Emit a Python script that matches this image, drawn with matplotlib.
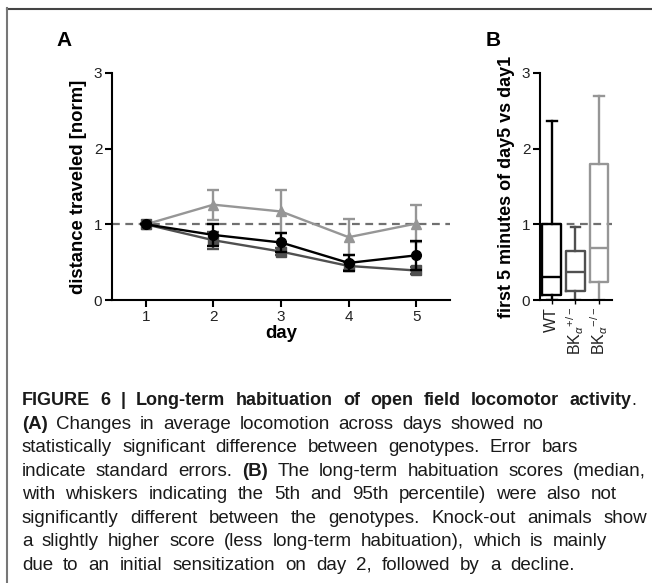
import matplotlib
matplotlib.use("Agg")
import matplotlib.pyplot as plt
from matplotlib import font_manager
from matplotlib.lines import Line2D
import numpy as np

# ---------------- data ----------------
days = [1, 2, 3, 4, 5]
wt_mean = [1.0, 0.86, 0.76, 0.49, 0.59]
wt_err = [0.0, 0.14, 0.13, 0.11, 0.19]
het_mean = [1.0, 0.79, 0.64, 0.45, 0.39]
het_err = [0.0, 0.11, 0.05, 0.05, 0.05]
ko_mean = [1.0, 1.26, 1.17, 0.83, 1.01]
ko_err = [0.0, 0.20, 0.28, 0.24, 0.25]

box_labels = ['WT', r'BK$_{\alpha}$$^{+/-}$', r'BK$_{\alpha}$$^{-/-}$']
box_low = [0.0, 0.0, 0.0]
box_q1 = [0.07, 0.12, 0.24]
box_med = [0.30, 0.37, 0.69]
box_q3 = [1.00, 0.65, 1.80]
box_high = [2.36, 0.96, 2.70]

yticks = [0, 1, 2, 3]

caption_lines = [
    [[("FIGURE", "bold")], [("6", "bold")], [("|", "bold")], [("Long-term", "bold")],
     [("habituation", "bold")], [("of", "bold")], [("open", "bold")], [("field", "bold")],
     [("locomotor", "bold")], [("activity", "bold"), (".", "normal")]],
    "(A)* Changes in average locomotion across days showed no",
    "statistically significant difference between genotypes. Error bars",
    "indicate standard errors. (B)* The long-term habituation scores (median,",
    "with whiskers indicating the 5th and 95th percentile) were also not",
    "significantly different between the genotypes. Knock-out animals show",
    "a slightly higher score (less long-term habituation), which is mainly",
    "due to an initial sensitization on day 2, followed by a decline.",
]
caption_right = [636, 544, 578, 646, 617, 647, 607, 575]

# ---------------- fonts ----------------
names = {f.name for f in font_manager.fontManager.ttflist}
def pick(cands):
    for c in cands:
        if c in names:
            return c
    return 'DejaVu Sans'
SANS = pick(['Liberation Sans', 'Arial', 'DejaVu Sans'])
plt.rcParams['font.family'] = [SANS, 'DejaVu Sans']
plt.rcParams['mathtext.fontset'] = 'custom'
plt.rcParams['mathtext.rm'] = SANS
plt.rcParams['mathtext.it'] = SANS + ':italic'
plt.rcParams['mathtext.bf'] = SANS + ':bold'

W, H = 652, 583
fig = plt.figure(figsize=(W / 100, H / 100), dpi=100)

def fx(x):
    return x / W
def fy(y):
    return 1 - y / H

TICKC = '#222222'
C_WT = '#000000'
C_HET = '#505050'
C_KO = '#969696'
LW = 1.7

# ---------------- panel A ----------------
axA = fig.add_axes([fx(112), fy(300), (450 - 112) / W, (300 - 73) / H])
axA.axhline(1.0, color='#707070', lw=1.6, ls=(0, (3.5, 2.5)), zorder=1)
axA.errorbar(days, ko_mean, yerr=ko_err, color=C_KO, marker='^', ms=7.5, lw=LW,
             capsize=4, capthick=LW, elinewidth=LW, zorder=2)
axA.errorbar(days, het_mean, yerr=het_err, color=C_HET, marker='s', ms=6.5, lw=LW,
             capsize=4, capthick=LW, elinewidth=LW, zorder=3)
axA.errorbar(days, wt_mean, yerr=wt_err, color=C_WT, marker='o', ms=7, lw=LW,
             capsize=4, capthick=LW, elinewidth=LW, zorder=4)
axA.set_xlim(0.5, 5.5)
axA.set_ylim(0, 3)
axA.set_yticks(yticks)
axA.set_xticks(days)
for s in ['top', 'right']:
    axA.spines[s].set_visible(False)
for s in ['left', 'bottom']:
    axA.spines[s].set_linewidth(1.5)
axA.tick_params(axis='both', length=5, width=1.5, labelsize=11, labelcolor=TICKC, pad=2)
axA.set_xlabel('day', fontsize=13.3, fontweight='bold', labelpad=1)
axA.set_ylabel('distance traveled [norm]', fontsize=13.3, fontweight='bold', labelpad=5)
fig.text(fx(64), fy(40), 'A', fontsize=15, fontweight='bold', ha='center', va='center')

# ---------------- panel B ----------------
axB = fig.add_axes([fx(540), fy(300), (612 - 540) / W, (300 - 73) / H])
stats = []
for i in range(3):
    stats.append(dict(med=box_med[i], q1=box_q1[i], q3=box_q3[i],
                      whislo=box_low[i], whishi=box_high[i], fliers=[], label=box_labels[i]))
bcolors = [C_WT, C_HET, C_KO]
bp = axB.bxp(stats, positions=[1, 2, 3], widths=0.8, showfliers=False, patch_artist=False,
             manage_ticks=False)
for i, c in enumerate(bcolors):
    for key in ['boxes', 'medians']:
        bp[key][i].set_color(c)
        bp[key][i].set_linewidth(LW)
    for key in ['whiskers', 'caps']:
        for j in (2 * i, 2 * i + 1):
            bp[key][j].set_color(c)
            bp[key][j].set_linewidth(LW)
axB.axhline(1.0, color='#707070', lw=1.6, ls=(0, (3.5, 2.5)), zorder=0.5)
axB.set_xlim(0.5, 3.55)
axB.set_ylim(0, 3)
axB.set_yticks(yticks)
axB.set_xticks([1, 2, 3])
axB.set_xticklabels(box_labels, rotation=90, fontsize=11.5, color=TICKC)
for s in ['top', 'right']:
    axB.spines[s].set_visible(False)
for s in ['left', 'bottom']:
    axB.spines[s].set_linewidth(1.5)
axB.tick_params(axis='y', length=5, width=1.5, labelsize=11, labelcolor=TICKC, pad=2)
axB.tick_params(axis='x', length=3, width=1, pad=2)
axB.set_ylabel('first 5 minutes of day5 vs day1', fontsize=13, fontweight='bold', labelpad=5)
fig.text(fx(493), fy(40), 'B', fontsize=15, fontweight='bold', ha='center', va='center')

# ---------------- border ----------------
fig.add_artist(Line2D([fx(7), fx(652)], [fy(8.5), fy(8.5)], color='#444444', lw=1.5))
fig.add_artist(Line2D([fx(7), fx(7)], [fy(8), fy(583)], color='#777777', lw=1.5))

# ---------------- caption ----------------
renderer = fig.canvas.get_renderer()

def parse(line):
    if not isinstance(line, str):
        return line
    words = []
    for w in line.split(' '):
        if w.endswith('*'):
            words.append([(w[:-1], 'bold')])
        else:
            words.append([(w, 'normal')])
    return words

X0 = 22
FS_BODY = 13.5
FS_TITLE = 13.0
for li, line in enumerate(caption_lines):
    words = parse(line)
    base = 405 + 23.57 * li
    fs = FS_TITLE if li == 0 else FS_BODY
    widths = []
    for word in words:
        wsum = 0
        for piece, weight in word:
            t = fig.text(0, 0, piece, fontsize=fs, fontweight=weight)
            wsum += t.get_window_extent(renderer).width
            t.remove()
        widths.append(wsum)
    total = sum(widths)
    gap = (caption_right[li] - X0 - total) / max(len(words) - 1, 1)
    x = X0
    for word, wd in zip(words, widths):
        xx = x
        for piece, weight in word:
            t = fig.text(fx(xx), fy(base), piece, fontsize=fs, fontweight=weight,
                         va='baseline', ha='left', color='#1a1a1a')
            xx += t.get_window_extent(renderer).width
        x += wd + gap

fig.savefig('out.png', dpi=100)
